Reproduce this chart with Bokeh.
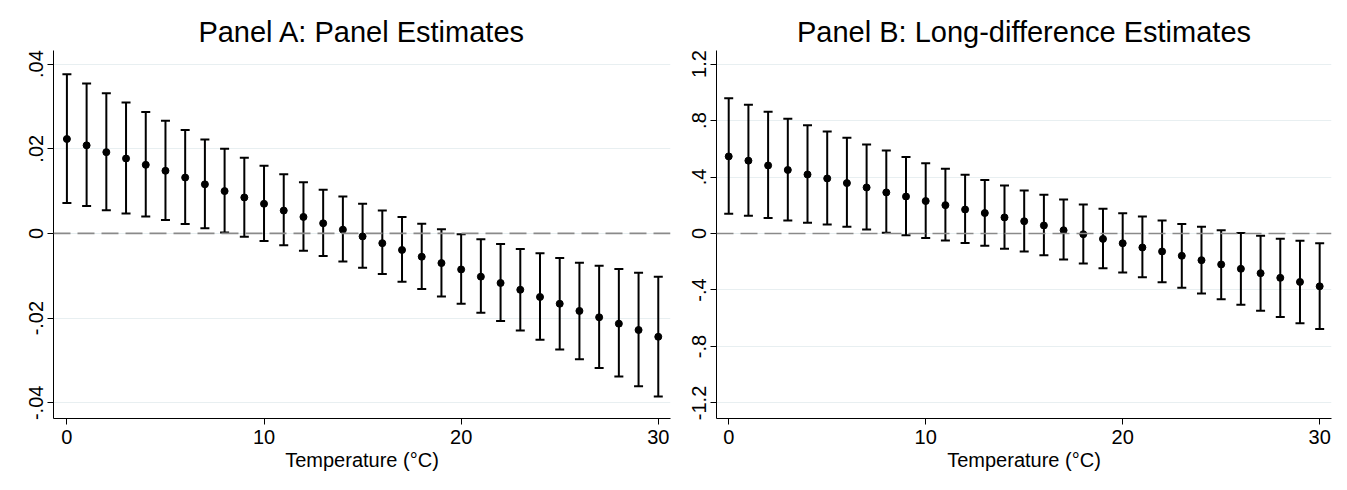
import math
from bokeh.plotting import figure
from bokeh.layouts import row
from bokeh.models import ColumnDataSource, Whisker, TeeHead, Span, FixedTicker, Range1d
from bokeh.embed import file_html
from bokeh.resources import INLINE

temps = list(range(31))

est_a = [0.0223, 0.0208, 0.0192, 0.0177, 0.0162, 0.0148, 0.0132, 0.0116, 0.0100, 0.0085, 0.0070,
         0.0054, 0.0039, 0.0024, 0.0009, -0.0007, -0.0023, -0.0039, -0.0055, -0.0070, -0.0085,
         -0.0102, -0.0117, -0.0133, -0.0150, -0.0166, -0.0183, -0.0198, -0.0213, -0.0228, -0.0244]
hi_a = [0.0376, 0.0354, 0.0331, 0.0309, 0.0287, 0.0266, 0.0244, 0.0222, 0.0200, 0.0179, 0.0160,
        0.0140, 0.0121, 0.0103, 0.0087, 0.0070, 0.0054, 0.0039, 0.0023, 0.0010, -0.0002,
        -0.0014, -0.0025, -0.0037, -0.0047, -0.0058, -0.0069, -0.0076, -0.0084, -0.0093, -0.0102]
lo_a = [0.0072, 0.0065, 0.0055, 0.0047, 0.0040, 0.0032, 0.0022, 0.0012, 0.0002, -0.0008, -0.0018,
        -0.0028, -0.0041, -0.0053, -0.0066, -0.0081, -0.0096, -0.0114, -0.0131, -0.0149, -0.0166,
        -0.0187, -0.0207, -0.0229, -0.0251, -0.0274, -0.0297, -0.0318, -0.0338, -0.0361, -0.0385]

est_b = [0.546, 0.516, 0.482, 0.450, 0.418, 0.390, 0.357, 0.326, 0.291, 0.262, 0.230,
         0.201, 0.170, 0.145, 0.114, 0.087, 0.057, 0.023, -0.005, -0.038, -0.069,
         -0.099, -0.127, -0.158, -0.189, -0.219, -0.250, -0.281, -0.314, -0.343, -0.374]
hi_b = [0.957, 0.911, 0.863, 0.813, 0.766, 0.723, 0.679, 0.631, 0.587, 0.542, 0.497,
        0.459, 0.416, 0.379, 0.340, 0.305, 0.275, 0.240, 0.205, 0.175, 0.144,
        0.120, 0.092, 0.068, 0.047, 0.023, 0.004, -0.016, -0.037, -0.052, -0.069]
lo_b = [0.140, 0.126, 0.109, 0.092, 0.076, 0.064, 0.047, 0.028, 0.005, -0.012, -0.031,
        -0.050, -0.068, -0.087, -0.108, -0.127, -0.154, -0.184, -0.212, -0.246, -0.276,
        -0.309, -0.345, -0.384, -0.425, -0.465, -0.505, -0.547, -0.592, -0.635, -0.677]

x_ticks = [0, 10, 20, 30]
yticks_a = [-0.04, -0.02, 0, 0.02, 0.04]
ylabels_a = ["-.04", "-.02", "0", ".02", ".04"]
yticks_b = [-1.2, -0.8, -0.4, 0, 0.4, 0.8, 1.2]
ylabels_b = ["-1.2", "-.8", "-.4", "0", ".4", ".8", "1.2"]

FONT = "Liberation Sans"


def make_panel(title, est, lo, hi, yticks, ylabels, xr, yr, left_border, right_border, fw):
    p = figure(output_backend="svg", toolbar_location=None,
               frame_width=fw, frame_height=368,
               min_border_left=left_border, min_border_right=right_border,
               min_border_top=50, min_border_bottom=60,
               x_range=Range1d(*xr), y_range=Range1d(*yr),
               title=title)
    p.title.text_font = FONT
    p.title.text_font_size = "29px"
    p.title.text_font_style = "normal"
    p.title.align = "center"
    p.title.text_color = "black"
    p.title.standoff = 6
    p.outline_line_color = None
    p.background_fill_color = "white"
    p.border_fill_color = "white"

    p.xgrid.visible = False
    p.ygrid.grid_line_color = "#e8eff1"
    p.ygrid.grid_line_width = 1.2

    p.xaxis.ticker = FixedTicker(ticks=x_ticks)
    p.yaxis.ticker = FixedTicker(ticks=yticks)
    p.yaxis.major_label_overrides = {t: l for t, l in zip(yticks, ylabels)}
    p.yaxis.major_label_orientation = "parallel"
    p.yaxis.major_label_standoff = 4
    for ax in (p.xaxis, p.yaxis):
        ax.minor_tick_line_color = None
        ax.major_tick_out = 6
        ax.major_tick_in = 0
        ax.axis_line_color = "black"
        ax.major_tick_line_color = "black"
        ax.major_label_text_font = FONT
        ax.major_label_text_font_size = "20px"
        ax.major_label_text_color = "black"
    p.xaxis.axis_label = "Temperature (°C)"
    p.xaxis.axis_label_text_font = FONT
    p.xaxis.axis_label_text_font_size = "20px"
    p.xaxis.axis_label_text_font_style = "normal"
    p.xaxis.axis_label_text_color = "black"
    p.xaxis.axis_label_standoff = 2

    p.add_layout(Span(location=0, dimension="width", line_color="#8a8a8a",
                      line_width=1.7, line_dash="17 7"))

    src = ColumnDataSource(dict(x=temps, y=est, lo=lo, hi=hi))
    w = Whisker(source=src, base="x", upper="hi", lower="lo", dimension="height",
                line_color="black", line_width=2,
                upper_head=TeeHead(size=9, line_width=2, line_color="black"),
                lower_head=TeeHead(size=9, line_width=2, line_color="black"))
    p.add_layout(w)
    p.scatter("x", "y", source=src, size=7, color="black")
    return p


pa = make_panel("Panel A: Panel Estimates", est_a, lo_a, hi_a, yticks_a, ylabels_a,
                (-0.68, 30.62), (-0.0437, 0.0432), 53, 5, 617)
pb = make_panel("Panel B: Long-difference Estimates", est_b, lo_b, hi_b, yticks_b, ylabels_b,
                (-0.62, 30.6), (-1.31, 1.296), 41, 8, 615)

layout = row(pa, pb)
open("out.html", "w").write(file_html(layout, INLINE))
